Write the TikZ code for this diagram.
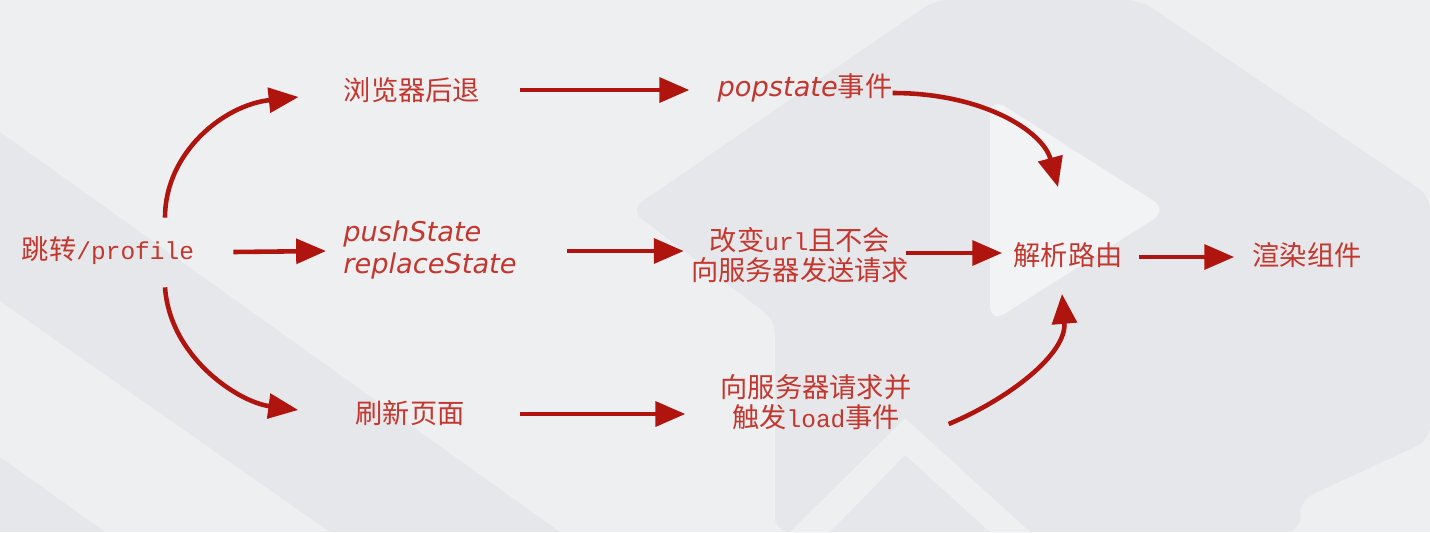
\documentclass[tikz,border=0pt]{standalone}
\usepackage{fontspec}
\setmainfont{Noto Sans CJK SC}
\setmonofont{Liberation Mono}[Scale=0.9]
\newfontfamily\handfont{DejaVu Sans}
\usepackage{tikz}
\usetikzlibrary{arrows.meta,calc}
\definecolor{RouteRed}{HTML}{C4372E}
\definecolor{ArrowRed}{HTML}{B0140E}
\definecolor{BgBase}{HTML}{EEEFF1}
\definecolor{BgDark}{HTML}{E6E7EA}
\definecolor{BgLight}{HTML}{F2F3F5}

\begin{document}
\begin{tikzpicture}[x=0.02cm,y=-0.02cm,
  routetext/.style={text=RouteRed,inner sep=0pt,align=center,font=\fontsize{15.5}{17}\selectfont},
  handtext/.style={font=\handfont\itshape\fontsize{15.5}{18.7}\selectfont},
  flow/.style={draw=ArrowRed,line width=2.6pt,-{Triangle[length=17pt,width=14pt]}}]
  % backdrop
  \fill[BgBase] (0,0) rectangle (1430,532);
  \fill[BgDark] (0,132) -- (560,532) -- (330,532) -- (0,301) -- cycle;
  \fill[BgDark] (0,457) -- (105,532) -- (0,532) -- cycle;
  \fill[BgDark,rounded corners=8pt] (630,210) -- (935,0) -- (1140,0) -- (1430,196) -- (1430,440)
    -- (1300,500) -- (1300,532) -- (775,532) -- (775,320) -- cycle;
  \fill[BgLight,rounded corners=10pt] (990,97) -- (1168,210) -- (990,323) -- cycle;
  \fill[BgBase] (790,532) -- (905,418) -- (1030,532) -- (990,532) -- (905,455) -- (830,532) -- cycle;

  % steps
  \node[routetext] (jump) at (108,251) {跳转\texttt{/profile}};
  \node[routetext] (back) at (412,90) {浏览器后退};
  \node[routetext] (pop) at (805,88) {{\handfont\itshape\fontsize{15.5}{18}\selectfont popstate}事件};
  \node[routetext,handtext,anchor=west,align=left] (push) at (343,250) {pushState\\replaceState};
  \node[routetext] (refresh) at (410,413) {刷新页面};
  \node[routetext] (change) at (800,255) {改变\texttt{url}且不会\\向服务器发送请求};
  \node[routetext] (server) at (816,402) {向服务器请求并\\触发\texttt{load}事件};
  \node[routetext] (parse) at (1068,255) {解析路由};
  \node[routetext] (render) at (1307,255) {渲染组件};

  % arrows
  \draw[flow] ($(jump.north)+(57,-19)$) .. controls +(0,-65) and +(-75,8) .. ($(back.west)+(-45,7)$);
  \draw[flow] ($(jump.east)+(39,1)$) -- ($(push.west)+(-17,1)$);
  \draw[flow] ($(jump.south)+(57,22)$) .. controls +(5,70) and +(-60,-8) .. ($(refresh.west)+(-57,-3)$);
  \draw[flow] ($(back.east)+(40,0)$) -- ($(pop.west)+(-28,2)$);
  \draw[flow] ($(push.east)+(50,1)$) -- ($(change.west)+(-7,-4)$);
  \draw[flow] ($(refresh.east)+(55,1)$) -- ($(server.west)+(-35,12)$);
  \draw[flow] ($(pop.east)+(0,5)$) .. controls +(90,0) and +(-15,-56) .. ($(parse.north)+(-10,-55)$);
  \draw[flow] ($(change.east)+(-3,-2)$) -- ($(parse.west)+(-11,-2)$);
  \draw[flow] ($(server.east)+(37,22)$) .. controls +(60,-25) and +(5,60) .. ($(parse.south)+(-6,26)$);
  \draw[flow] ($(parse.east)+(16,2)$) -- ($(render.west)+(-18,2)$);
\end{tikzpicture}
\end{document}
